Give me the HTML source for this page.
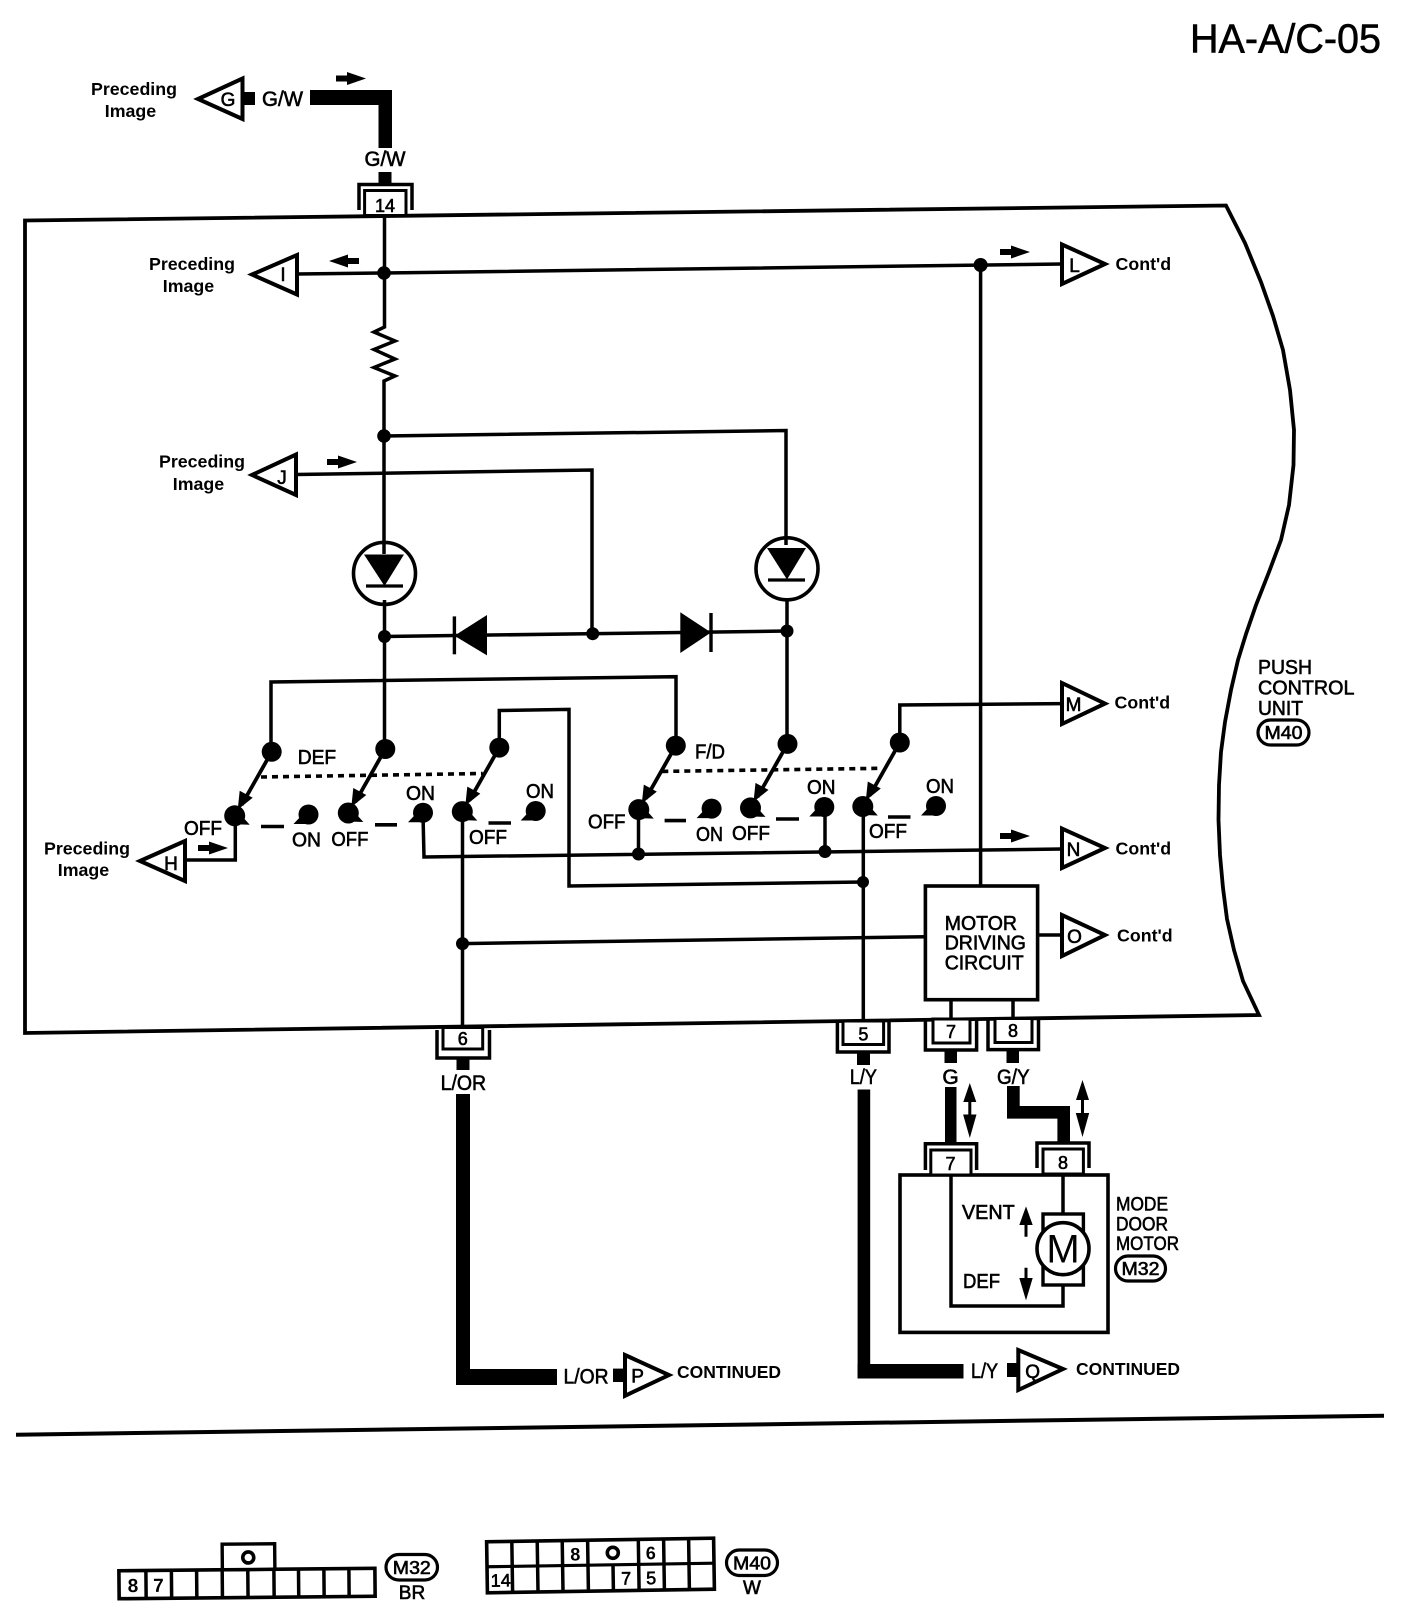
<!DOCTYPE html>
<html><head><meta charset="utf-8"><style>
html,body{margin:0;padding:0;background:#fff;width:1408px;height:1620px;overflow:hidden}
svg{display:block}
text{font-family:"Liberation Sans",sans-serif;fill:#000}
.b{font-weight:bold}
.r{stroke:#000;stroke-width:.6}
.m{text-anchor:middle}
.w{fill:none;stroke:#000;stroke-width:3.5}
.t{fill:#fff;stroke:#000;stroke-width:4}
.k{fill:#000}
</style></head><body>
<svg width="1408" height="1620" viewBox="0 0 1408 1620" xmlns="http://www.w3.org/2000/svg">
<defs>
<g id="sw">
<ellipse cx="0" cy="0" rx="10" ry="10" class="k"/>
<line x1="0" y1="0" x2="-30" y2="53" stroke="#000" stroke-width="3.8"/>
<polygon points="-19,46 -32,39 -34,58" class="k"/>
<ellipse cx="-37" cy="64" rx="10.5" ry="10.5" class="k"/>
<polygon points="-37,72.5 -22,73 -30,64" class="k"/>
</g>
<g id="on">
<ellipse cx="0" cy="0" rx="10" ry="10" class="k"/>
<polygon points="-15,9.5 -2,9.5 -7,1" class="k"/>
</g>
<polygon id="ar" points="0,-3 11,-3 11,-6.5 30,0 11,6.5 11,3 0,3" class="k"/>
</defs>

<text x="1190" y="52.5" font-size="41" textLength="191" lengthAdjust="spacingAndGlyphs" class="r">HA-A/C-05</text>

<!-- main unit outline -->
<polygon points="25,220.500 1226,205.500 1245,243 1261,282 1273,316 1283,350 1290,390 1294,430 1293.500,465 1289,505 1281,540 1269,572 1256,605 1246,634 1238,660 1231,690 1225,722 1221,752 1219,785 1218.500,820 1220,855 1223,888 1227,919 1234,950 1243,981 1259,1015 25,1033" fill="none" stroke="#000" stroke-width="3.800"/>

<!-- top G/W -->
<polygon points="198,99 242.500,78.500 242.500,119" class="t"/>
<rect x="242" y="92" width="13" height="13" class="k"/>
<rect x="310" y="90" width="82" height="15" class="k"/>
<rect x="378.500" y="90" width="13.500" height="58" class="k"/>
<rect x="378.500" y="172" width="13" height="13" class="k"/>
<use href="#ar" x="336" y="78.500"/>
<text x="228" y="106" font-size="19" class="m r">G</text>
<text x="262" y="106" font-size="21" textLength="41" lengthAdjust="spacingAndGlyphs" class="r">G/W</text>
<text x="385" y="166" font-size="21" textLength="41" lengthAdjust="spacingAndGlyphs" class="m r">G/W</text>
<text x="134" y="95" font-size="17.800" class="b m">Preceding</text>
<text x="130.500" y="117" font-size="17.800" class="b m">Image</text>

<!-- main wires -->
<path class="w" d="M384.500,216 V327 L374,332 395,341 374,349.500 395,359 374,367.500 395,376 384,381 V554"/>
<path class="w" d="M297,274 L384,273 L1062,264"/>
<path class="w" d="M384,436 L786,430.500 V545"/>
<path class="w" d="M296,474.500 L592,470 V634"/>
<path class="w" d="M384.500,600 V743"/>
<path class="w" d="M787,598 V744"/>
<path class="w" d="M384.500,636.500 L787,631"/>
<path class="w" d="M980.600,265 V886"/>
<path class="w" d="M271,745 V682 L676,676.700 V738"/>
<path class="w" d="M499.300,740 V710.500 L569,709.400 V886 L863,882"/>
<path class="w" d="M899.800,735 V705 L1062,703.600"/>
<path class="w" d="M235.300,815 V860 H185"/>
<path class="w" d="M423,815 L424,857 L1062,849"/>
<path class="w" d="M638.500,810 V854"/>
<path class="w" d="M825,808 V851"/>
<path class="w" d="M462.500,812 V1026"/>
<path class="w" d="M863.300,806 V1019"/>
<path class="w" d="M462.500,943.600 L925.400,936.700"/>
<path class="w" d="M1038,935 H1062"/>
<path class="w" d="M951,1000 V1020 M1013,1000 V1020"/>

<!-- junction dots -->
<circle cx="384" cy="273" r="6.800" class="k"/>
<circle cx="384" cy="436" r="6.800" class="k"/>
<circle cx="980.600" cy="265" r="7" class="k"/>
<circle cx="384.500" cy="636.500" r="6.500" class="k"/>
<circle cx="592.700" cy="633.700" r="6.500" class="k"/>
<circle cx="787" cy="631" r="6.500" class="k"/>
<circle cx="638.500" cy="854" r="6.500" class="k"/>
<circle cx="825" cy="851.500" r="6.500" class="k"/>
<circle cx="863" cy="882" r="6" class="k"/>
<circle cx="462.500" cy="943.600" r="6.500" class="k"/>

<!-- diodes in circles -->
<circle cx="384.500" cy="573.400" r="31" fill="none" stroke="#000" stroke-width="3.600"/>
<polygon points="364,554.500 404,554.500 384.500,586" class="k"/>
<line x1="366" y1="586" x2="403" y2="586" stroke="#000" stroke-width="3.200"/>
<circle cx="787" cy="568.800" r="31" fill="none" stroke="#000" stroke-width="3.600"/>
<polygon points="767,548 806,548 787,579.500" class="k"/>
<line x1="768" y1="580" x2="805" y2="580" stroke="#000" stroke-width="3.200"/>

<!-- horizontal diodes -->
<polygon points="454.400,635.700 487,615 487,655.400" class="k"/>
<line x1="454.400" y1="616.400" x2="454.400" y2="654.300" stroke="#000" stroke-width="3.400"/>
<polygon points="680.300,612.300 680.300,653 711,632.500" class="k"/>
<line x1="711" y1="613" x2="711" y2="652" stroke="#000" stroke-width="3.400"/>

<!-- triangles with labels -->
<polygon points="252,274.500 297,255 297,294.500" class="t"/>
<polygon points="252,475 296,454.500 296,495" class="t"/>
<polygon points="140,861 185,841 185,881" class="t"/>
<polygon points="1062,244.500 1062,284 1105,264" class="t"/>
<polygon points="1062,683 1062,724 1105,703.600" class="t"/>
<polygon points="1062,828.600 1062,868 1105,848" class="t"/>
<polygon points="1062,915 1062,956 1105,935" class="t"/>
<text x="283" y="281" font-size="19" class="m r">I</text>
<text x="282" y="484" font-size="19" class="m r">J</text>
<text x="171" y="870" font-size="19" class="m r">H</text>
<text x="1074.500" y="272" font-size="19" class="m r">L</text>
<text x="1073.500" y="711" font-size="19" class="m r">M</text>
<text x="1073.500" y="856" font-size="19" class="m r">N</text>
<text x="1074.500" y="943" font-size="19" class="m r">O</text>

<use href="#ar" transform="translate(359,261) scale(-1,1)"/>
<use href="#ar" x="327" y="462"/>
<use href="#ar" x="1000" y="252"/>
<use href="#ar" x="198" y="848"/>
<use href="#ar" x="1000" y="836"/>

<text x="192" y="270" font-size="17.800" class="b m">Preceding</text>
<text x="188.500" y="292" font-size="17.800" class="b m">Image</text>
<text x="202" y="467.500" font-size="17.800" class="b m">Preceding</text>
<text x="198.500" y="490" font-size="17.800" class="b m">Image</text>
<text x="87" y="854.500" font-size="17.800" class="b m">Preceding</text>
<text x="83.500" y="876" font-size="17.800" class="b m">Image</text>
<text x="1115.500" y="270" font-size="17.800" class="b">Cont'd</text>
<text x="1114.500" y="708.500" font-size="17.800" class="b">Cont'd</text>
<text x="1115.500" y="854.500" font-size="17.800" class="b">Cont'd</text>
<text x="1117" y="941.500" font-size="17.800" class="b">Cont'd</text>

<!-- switches -->
<use href="#sw" x="271.700" y="751.800"/>
<use href="#sw" x="385.300" y="749"/>
<use href="#sw" x="499.300" y="747.600"/>
<use href="#sw" x="675.800" y="745.600"/>
<use href="#sw" x="787.500" y="743.900"/>
<use href="#sw" x="899.800" y="742.500"/>
<use href="#on" x="308.500" y="814.500"/>
<use href="#on" x="423" y="812.700"/>
<use href="#on" x="535.700" y="811"/>
<use href="#on" x="711.600" y="808.600"/>
<use href="#on" x="824.300" y="807"/>
<use href="#on" x="936" y="806"/>
<g stroke="#000" stroke-width="3.600">
<line x1="261" y1="826.500" x2="284" y2="826.500"/>
<line x1="375" y1="824.800" x2="397" y2="824.800"/>
<line x1="488.500" y1="823" x2="511" y2="823"/>
<line x1="664.600" y1="820.600" x2="686" y2="820.600"/>
<line x1="776" y1="819" x2="799" y2="819"/>
<line x1="888" y1="817" x2="910.500" y2="817"/>
</g>
<line x1="261" y1="777" x2="482.700" y2="773.500" stroke="#000" stroke-width="3.600" stroke-dasharray="6 5"/>
<line x1="662.300" y1="771.400" x2="881.400" y2="768.300" stroke="#000" stroke-width="3.600" stroke-dasharray="6 5"/>

<g font-size="20">
<text x="184" y="835" textLength="38" lengthAdjust="spacingAndGlyphs" class="r">OFF</text>
<text x="292" y="846.500" textLength="29" lengthAdjust="spacingAndGlyphs" class="r">ON</text>
<text x="331.400" y="846" textLength="37" lengthAdjust="spacingAndGlyphs" class="r">OFF</text>
<text x="406" y="800" textLength="29" lengthAdjust="spacingAndGlyphs" class="r">ON</text>
<text x="469" y="844" textLength="38" lengthAdjust="spacingAndGlyphs" class="r">OFF</text>
<text x="526" y="798" textLength="28" lengthAdjust="spacingAndGlyphs" class="r">ON</text>
<text x="588" y="828.500" textLength="37.500" lengthAdjust="spacingAndGlyphs" class="r">OFF</text>
<text x="696" y="841" textLength="27" lengthAdjust="spacingAndGlyphs" class="r">ON</text>
<text x="732" y="840" textLength="38" lengthAdjust="spacingAndGlyphs" class="r">OFF</text>
<text x="807" y="794" textLength="28.500" lengthAdjust="spacingAndGlyphs" class="r">ON</text>
<text x="869" y="838" textLength="38" lengthAdjust="spacingAndGlyphs" class="r">OFF</text>
<text x="926" y="793" textLength="28" lengthAdjust="spacingAndGlyphs" class="r">ON</text>
<text x="297.700" y="764" textLength="38.500" lengthAdjust="spacingAndGlyphs" class="r">DEF</text>
<text x="695" y="758.500" textLength="30" lengthAdjust="spacingAndGlyphs" class="r">F/D</text>
</g>

<!-- motor driving circuit -->
<rect x="925.400" y="886" width="112.200" height="113.700" fill="#fff" stroke="#000" stroke-width="3.600"/>
<g font-size="20">
<text x="944.700" y="930" textLength="72.300" lengthAdjust="spacingAndGlyphs" class="r">MOTOR</text>
<text x="944.700" y="949.500" textLength="81.300" lengthAdjust="spacingAndGlyphs" class="r">DRIVING</text>
<text x="944.700" y="969.500" textLength="79" lengthAdjust="spacingAndGlyphs" class="r">CIRCUIT</text>
</g>

<!-- PUSH CONTROL UNIT -->
<g font-size="20">
<text x="1258" y="674" textLength="54" lengthAdjust="spacingAndGlyphs" class="r">PUSH</text>
<text x="1258" y="694.500" textLength="96.500" lengthAdjust="spacingAndGlyphs" class="r">CONTROL</text>
<text x="1258" y="715" textLength="45" lengthAdjust="spacingAndGlyphs" class="r">UNIT</text>
</g>
<rect x="1258" y="720" width="51" height="25" rx="12.500" fill="none" stroke="#000" stroke-width="3.200"/>
<text x="1283.500" y="739" font-size="18" textLength="38" lengthAdjust="spacingAndGlyphs" class="m r">M40</text>

<!-- connector 14 -->
<path class="w" d="M359,210 V184.500 H412 V210" stroke-width="3"/>
<rect x="364.600" y="190.500" width="41.400" height="25" fill="#fff" stroke="#000" stroke-width="3"/>
<text x="385" y="212" font-size="18" class="m r">14</text>

<!-- lower connectors -->
<path class="w" d="M437,1030 V1058 H489.500 V1030"/>
<rect x="443" y="1027.500" width="39.700" height="21.500" fill="#fff" stroke="#000" stroke-width="3"/>
<text x="462.800" y="1045" font-size="18" class="m r">6</text>
<rect x="456.500" y="1058" width="13" height="12" class="k"/>

<path class="w" d="M837.400,1022 V1052 H889 V1022"/>
<rect x="843" y="1021" width="40.600" height="23.500" fill="#fff" stroke="#000" stroke-width="3"/>
<text x="863.400" y="1040.500" font-size="18" class="m r">5</text>
<rect x="857" y="1052" width="13" height="13" class="k"/>

<path class="w" d="M925.400,1020 V1050 H976.600 V1020"/>
<rect x="933" y="1019" width="37" height="24" fill="#fff" stroke="#000" stroke-width="3"/>
<text x="951" y="1038" font-size="18" class="m r">7</text>
<rect x="944.500" y="1050" width="12.500" height="13" class="k"/>

<path class="w" d="M988,1019 V1049.600 H1038.500 V1019"/>
<rect x="995" y="1018.500" width="37" height="24" fill="#fff" stroke="#000" stroke-width="3"/>
<text x="1013" y="1037" font-size="18" class="m r">8</text>
<rect x="1006.500" y="1050" width="12.500" height="13" class="k"/>

<text x="463.400" y="1090" font-size="21" textLength="45.500" lengthAdjust="spacingAndGlyphs" class="m r">L/OR</text>
<text x="863.400" y="1084" font-size="21" textLength="27" lengthAdjust="spacingAndGlyphs" class="m r">L/Y</text>
<text x="950.500" y="1084" font-size="21" class="m r">G</text>
<text x="1013.300" y="1084" font-size="21" textLength="32.500" lengthAdjust="spacingAndGlyphs" class="m r">G/Y</text>

<!-- thick harness -->
<rect x="456" y="1094" width="14" height="291" class="k"/>
<rect x="456" y="1369" width="101" height="16" class="k"/>
<rect x="857.600" y="1089.500" width="12.600" height="289" class="k"/>
<rect x="857.600" y="1364" width="105.900" height="14.500" class="k"/>
<rect x="945" y="1087" width="11.500" height="56" class="k"/>
<path d="M1007,1086 H1019.700 V1106 H1070 V1143 H1057.400 V1118.600 H1007 Z" class="k"/>

<!-- double arrows -->
<polygon points="969.800,1083 976.300,1102 971.300,1102 971.300,1114.500 976.500,1114.500 969.800,1138 963.100,1114.500 968.300,1114.500 968.300,1102 963.300,1102" class="k"/>
<polygon points="1082.500,1080 1089,1100 1084,1100 1084,1113 1089.200,1113 1082.500,1137 1075.800,1113 1081,1113 1081,1100 1076,1100" class="k"/>

<!-- P / Q -->
<text x="563.500" y="1383.700" font-size="21" textLength="45" lengthAdjust="spacingAndGlyphs" class="r">L/OR</text>
<rect x="613" y="1368.600" width="12" height="13.400" class="k"/>
<polygon points="625,1355 625,1395.800 669,1375" class="t"/>
<text x="637.600" y="1382.500" font-size="19" class="m r">P</text>
<text x="677" y="1378" font-size="17.500" class="b">CONTINUED</text>

<text x="971" y="1378" font-size="21" textLength="27" lengthAdjust="spacingAndGlyphs" class="r">L/Y</text>
<rect x="1007" y="1363" width="11.500" height="14" class="k"/>
<polygon points="1018.300,1350 1018.300,1390 1063,1369" class="t"/>
<text x="1032.700" y="1378" font-size="19" class="m r">Q</text>
<text x="1076" y="1375" font-size="17.500" class="b">CONTINUED</text>

<!-- mode door motor -->
<rect x="900" y="1175" width="208" height="157.400" fill="#fff" stroke="#000" stroke-width="3.600"/>
<path class="w" d="M951,1175 V1306 H1063 V1285"/>
<path class="w" d="M1063,1175 V1214"/>
<rect x="1043" y="1214" width="40.400" height="71" fill="#fff" stroke="#000" stroke-width="3.400"/>
<circle cx="1063" cy="1248.700" r="26" fill="#fff" stroke="#000" stroke-width="3.600"/>
<text x="1063" y="1262.500" font-size="40" class="m">M</text>
<text x="962" y="1219" font-size="20" textLength="52.700" lengthAdjust="spacingAndGlyphs" class="r">VENT</text>
<text x="963" y="1288" font-size="20" textLength="37" lengthAdjust="spacingAndGlyphs" class="r">DEF</text>
<polygon points="1026,1206.400 1032.700,1225 1027.500,1225 1027.500,1236.700 1024.500,1236.700 1024.500,1225 1019.300,1225" class="k"/>
<polygon points="1026,1300.400 1032.700,1278 1027.500,1278 1027.500,1267.700 1024.500,1267.700 1024.500,1278 1019.300,1278" class="k"/>
<path class="w" d="M925.400,1170 V1143.700 H976.600 V1170"/>
<rect x="930.800" y="1150" width="40.200" height="25" fill="#fff" stroke="#000" stroke-width="3"/>
<text x="950.500" y="1170" font-size="18" class="m r">7</text>
<path class="w" d="M1037,1168 V1143 H1089 V1168"/>
<rect x="1043" y="1149" width="40.400" height="25" fill="#fff" stroke="#000" stroke-width="3"/>
<text x="1063" y="1169" font-size="18" class="m r">8</text>
<g font-size="19.500">
<text x="1116" y="1210.500" textLength="52" lengthAdjust="spacingAndGlyphs" class="r">MODE</text>
<text x="1116" y="1230.500" textLength="52" lengthAdjust="spacingAndGlyphs" class="r">DOOR</text>
<text x="1116" y="1250" textLength="63" lengthAdjust="spacingAndGlyphs" class="r">MOTOR</text>
</g>
<rect x="1115.500" y="1256" width="50" height="25" rx="12.500" fill="none" stroke="#000" stroke-width="3.200"/>
<text x="1140.500" y="1275" font-size="18" textLength="38" lengthAdjust="spacingAndGlyphs" class="m r">M32</text>

<!-- separator -->
<line x1="16" y1="1434.700" x2="1384" y2="1415.700" stroke="#000" stroke-width="4"/>

<!-- M32 connector -->
<g transform="rotate(-0.55 247 1582)">
<rect x="119" y="1569.500" width="256" height="28" fill="#fff" stroke="#000" stroke-width="3.600"/>
<rect x="222.500" y="1544" width="52.500" height="25.500" fill="#fff" stroke="#000" stroke-width="3.400"/>
<path class="w" d="M146,1569.500 V1597.500 M171.500,1569.500 V1597.500 M196.700,1569.500 V1597.500 M222.300,1569.500 V1597.500 M247.900,1569.500 V1597.500 M274,1569.500 V1597.500 M298.600,1569.500 V1597.500 M324,1569.500 V1597.500 M349,1569.500 V1597.500"/>
<text x="133" y="1591" font-size="19" class="b m">8</text>
<text x="158.500" y="1591" font-size="19" class="b m">7</text>
<circle cx="248.500" cy="1557.500" r="5.500" fill="none" stroke="#000" stroke-width="3.600"/>
</g>
<rect x="386" y="1554.500" width="51.500" height="25.500" rx="12.700" fill="none" stroke="#000" stroke-width="3.200"/>
<text x="411.800" y="1574" font-size="18" textLength="38" lengthAdjust="spacingAndGlyphs" class="m r">M32</text>
<text x="412" y="1599" font-size="19" class="m r">BR</text>

<!-- M40 connector -->
<g transform="rotate(-0.9 600 1565)">
<rect x="487" y="1540" width="227" height="51" fill="#fff" stroke="#000" stroke-width="3.600"/>
<line x1="487" y1="1565" x2="714" y2="1565" stroke="#000" stroke-width="3.200"/>
<path class="w" d="M512.200,1540 V1591 M537.600,1540 V1591 M562.600,1540 V1591 M588,1540 V1591 M638.700,1540 V1591 M664,1540 V1591 M689,1540 V1591 M613,1565 V1591"/>
<text x="575.500" y="1560" font-size="18" class="b m">8</text>
<circle cx="613" cy="1553" r="5.500" fill="none" stroke="#000" stroke-width="3.600"/>
<text x="651" y="1560" font-size="18" class="b m">6</text>
<text x="500.500" y="1585" font-size="18" class="m r">14</text>
<text x="626" y="1585" font-size="18" class="m r">7</text>
<text x="651" y="1585" font-size="18" class="m r">5</text>
</g>
<rect x="726.500" y="1550" width="51" height="25.500" rx="12.700" fill="none" stroke="#000" stroke-width="3.200"/>
<text x="752" y="1569.500" font-size="18" textLength="38" lengthAdjust="spacingAndGlyphs" class="m r">M40</text>
<text x="752" y="1594" font-size="19" class="m r">W</text>
</svg>
</body></html>
